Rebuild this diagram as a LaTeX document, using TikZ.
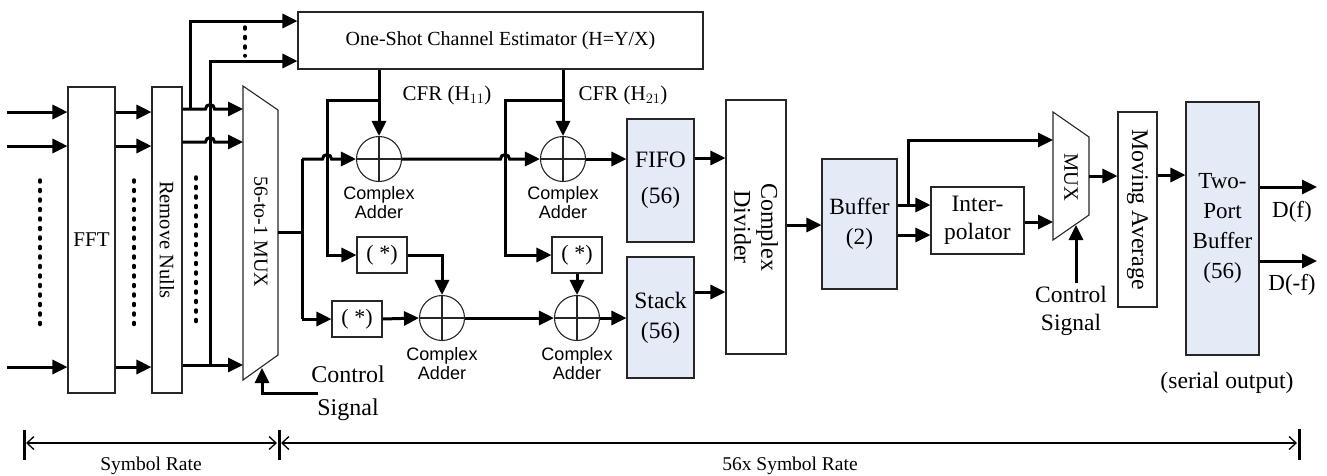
\documentclass[tikz,border=0pt]{standalone}
\usepackage{fontspec}
\setmainfont{Liberation Serif}
\setsansfont{Liberation Sans}
\usetikzlibrary{arrows.meta,calc}
\definecolor{boxfill}{RGB}{229,235,246}
\tikzset{
  blk/.style={draw=black!85, line width=1.1pt, inner sep=0pt, align=center},
  fbox/.style={blk, fill=boxfill},
  sig/.style={line width=3pt, -{Triangle[length=15pt,width=14pt]}},
  wire/.style={line width=3pt},
  dots/.style={line width=3.5pt, line cap=round, dash pattern=on 2pt off 7.5pt},
  dim/.style={line width=1.3pt, {Straight Barb[length=7pt,width=13pt]}-{Straight Barb[length=7pt,width=13pt]}},
  tick/.style={line width=3pt},
  adder/.style={circle, draw=black!85, line width=1.1pt, minimum size=45pt, inner sep=0pt,
    path picture={\draw[line width=1.1pt] (path picture bounding box.north) -- (path picture bounding box.south)
      (path picture bounding box.west) -- (path picture bounding box.east);}},
  lbl/.style={font=\sffamily\fontsize{18}{19}\selectfont, align=center, inner sep=0pt},
  conj/.style={blk, minimum width=50pt, minimum height=36pt, font=\fontsize{22}{24}\selectfont},
  muxshape/.style={draw=black!85, line width=1.1pt},
}
\begin{document}
\begin{tikzpicture}[x=1pt,y=-1pt]
\useasboundingbox (0,0) rectangle (1327,475);

% ---------- blocks ----------
\node[blk, minimum width=47pt, minimum height=306pt, font=\fontsize{21}{24}\selectfont] (fft) at (91.5,240) {FFT};
\node[blk, minimum width=30pt, minimum height=306pt] (rn) at (167,240) {};
\node[rotate=-90, font=\fontsize{20.5}{24}\selectfont] (rnt) at (rn.center) {Remove Nulls};
\node[blk, minimum width=405pt, minimum height=57pt, font=\fontsize{20}{24}\selectfont] (est) at (500.5,40.5) {One-Shot Channel Estimator (H=Y/X)};

\draw[muxshape] (243,86) coordinate (m1a) -- (278,110) coordinate (m1b) -- (278,355) coordinate (m1c) -- (243,380) coordinate (m1d) -- cycle;
\node[rotate=-90, font=\fontsize{20}{24}\selectfont] (m1t) at (261,232) {56-to-1 MUX};

\node[adder] (ad1) at (379,159) {};
\node[adder] (ad2) at (563,159) {};
\node[adder] (ad3) at (442,318) {};
\node[adder] (ad4) at (577,318) {};
\node[lbl] (ad1l) at (379,203) {Complex\\Adder};
\node[lbl] (ad2l) at (563,203) {Complex\\Adder};
\node[lbl] (ad3l) at (442,364) {Complex\\Adder};
\node[lbl] (ad4l) at (577,364) {Complex\\Adder};

\node[conj] (cA) at (382,255) {( *)};
\node[conj] (cB) at (357,319) {( *)};
\node[conj] (cC) at (577,255) {( *)};

\node[font=\fontsize{21}{24}\selectfont] (cfr1) at (447,95) {CFR (H$_{11}$)};
\node[font=\fontsize{21}{24}\selectfont] (cfr2) at (623,95) {CFR (H$_{21}$)};

\node[fbox, minimum width=67pt, minimum height=123pt, font=\fontsize{23.5}{36}\selectfont] (fifo) at (660.5,180.5) {FIFO\\(56)};
\node[fbox, minimum width=67pt, minimum height=121pt, font=\fontsize{23.5}{30}\selectfont] (stack) at (660.5,317.5) {Stack\\(56)};
\node[blk, minimum width=60pt, minimum height=254pt] (div) at (756,227) {};
\node[rotate=-90, align=center, font=\fontsize{24}{27}\selectfont] (divt) at (div.center) {Complex\\Divider};
\node[fbox, minimum width=75pt, minimum height=130pt, font=\fontsize{23.3}{30}\selectfont] (buf) at (859.5,224) {Buffer\\(2)};
\node[blk, minimum width=93pt, minimum height=67pt, font=\fontsize{23.5}{28}\selectfont] (interp) at (977.5,220.5) {Inter-\\polator};

\draw[muxshape] (1053,112) coordinate (m2a) -- (1089,137) coordinate (m2b) -- (1089,215) coordinate (m2c) -- (1053,240) coordinate (m2d) -- cycle;
\node[rotate=-90, font=\fontsize{20.5}{24}\selectfont] (m2t) at (1071,177) {MUX};

\node[blk, minimum width=39pt, minimum height=195pt] (ma) at (1137.5,209.5) {};
\node[rotate=-90, font=\fontsize{23.8}{26}\selectfont] (mat) at (ma.center) {Moving Average};
\node[fbox, minimum width=73pt, minimum height=253pt, font=\fontsize{23}{30}\selectfont] (tpb) at (1222.5,228.5) {Two-\\Port\\Buffer\\(56)};

\node[font=\fontsize{23}{26}\selectfont] (df) at (1292,212) {D(f)};
\node[font=\fontsize{23}{26}\selectfont] (dmf) at (1292,285) {D(-f)};
\node[font=\fontsize{23.6}{26}\selectfont] (ser) at (1227,383) {(serial output)};

\node[align=center, font=\fontsize{24}{33}\selectfont] (cs1) at (348,393.5) {Control\\Signal};
\node[align=center, font=\fontsize{23.5}{28}\selectfont] (cs2) at (1071,311) {Control\\Signal};

% ---------- inputs ----------
\coordinate (i1) at (7,112);
\coordinate (i2) at (7,146);
\coordinate (i3) at (7,367);
\draw[sig] (i1) -- (fft.west |- i1);
\draw[sig] (i2) -- (fft.west |- i2);
\draw[sig] (i3) -- (fft.west |- i3);
\draw[sig] (fft.east |- i1) -- (rn.west |- i1);
\draw[sig] (fft.east |- i2) -- (rn.west |- i2);
\draw[sig] (fft.east |- i3) -- (rn.west |- i3);

\draw[dots] (40,180) -- (40,328);
\draw[dots] (134,180) -- (134,328);
\draw[dots] (196,177) -- (196,326);
\draw[dots] (245,27) -- (245,56);

% ---------- remove nulls -> mux / estimator ----------
\coordinate (j1) at (190,109);
\coordinate (j2) at (210,365);
\draw[sig] (rn.east |- 0,109) -- (205.5,109) arc[start angle=180,end angle=0,radius=4.5pt] -- (m1a |- 0,109);
\draw[sig] (rn.east |- 0,142) -- (205.5,142) arc[start angle=180,end angle=0,radius=4.5pt] -- (m1a |- 0,142);
\draw[sig] (rn.east |- 0,365) -- (m1a |- 0,365);
\draw[sig] (j1) -- (190,21) -- (est.west |- 0,21);
\draw[sig] (j2) -- (210,61) -- (est.west |- 0,61);

% control signal 1
\draw[sig] ([xshift=10pt]cs1.west) -| (262,368);

% ---------- mux1 output ----------
\coordinate (m1o) at (278,232);
\draw[wire] (m1o) -- (302,232);
\draw[wire] (302,159) -- (302,319);
\draw[sig] (302,159) -- (322.5,159) arc[start angle=180,end angle=0,radius=4.5pt] -- (ad1.west);
\draw[sig] (302,319) -- (cB.west);

% estimator -> adders
\draw[sig] (est.south -| ad1) -- (ad1.north);
\draw[sig] (379,100) -- (327,100) |- (cA.west);
\draw[sig] (est.south -| ad2) -- (ad2.north);
\draw[sig] (563,100) -- (505,100) |- (cC.west);
\draw[sig] (ad1.east) -- (500.5,159) arc[start angle=180,end angle=0,radius=4.5pt] -- (ad2.west);

\draw[sig] (cA.east) -| (ad3.north);
\draw[sig] (cB.east) -- (ad3.west);
\draw[sig] (ad3.east) -- (ad4.west);
\draw[sig] (cC.south) -- (ad4.north);

\draw[sig] (ad2.east) -- (fifo.west |- ad2);
\draw[sig] (ad4.east) -- (stack.west |- ad4);
\draw[sig] (fifo.east |- 0,158) -- (div.west |- 0,158);
\draw[sig] (stack.east |- 0,292) -- (div.west |- 0,292);
\draw[sig] (div.east |- 0,225) -- (buf.west |- 0,225);
\draw[sig] (buf.east |- 0,205) -- (interp.west |- 0,205);
\draw[sig] (buf.east |- 0,235) -- (interp.west |- 0,235);
\draw[sig] (908,205) -- (908,140) -- (m2a |- 0,140);
\draw[sig] (interp.east |- 0,222) -- (m2a |- 0,222);
\draw[sig] (1076,283) -- (1076,225);
\draw[sig] (m2b |- 0,176) -- (ma.west |- 0,176);
\draw[sig] (ma.east |- 0,175) -- (tpb.west |- 0,175);
\draw[sig] (tpb.east |- 0,187) -- (1317,187);
\draw[sig] (tpb.east |- 0,261) -- (1317,261);

% ---------- rate dimension ----------
\draw[tick] (24,430) -- (24,460);
\draw[tick] (279,430) -- (279,460);
\draw[tick] (1299,429) -- (1299,460);
\draw[dim] (26,443) -- (277,443);
\draw[dim] (281,443) -- (1297,443);
\node[font=\fontsize{19.5}{22}\selectfont] (sr1) at (151,466) {Symbol Rate};
\node[font=\fontsize{19.5}{22}\selectfont] (sr2) at (790,466) {56x Symbol Rate};
\end{tikzpicture}
\end{document}
